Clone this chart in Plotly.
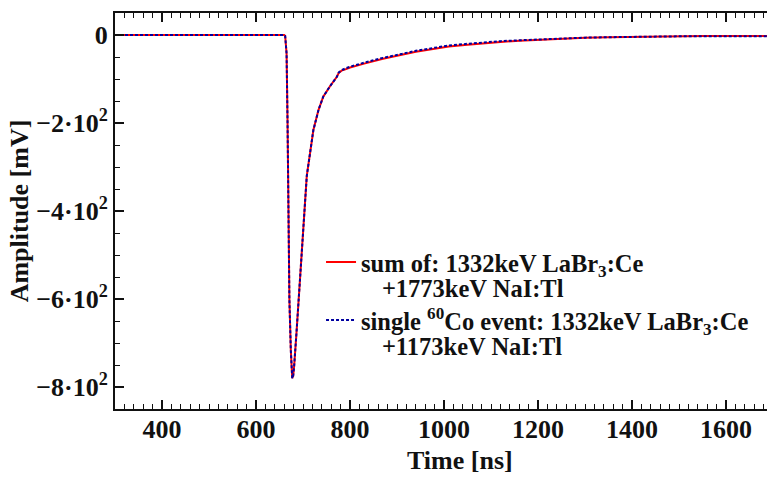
import plotly.graph_objects as go

# ---- data ----
time_ns = [300, 400, 500, 600, 650, 660, 662, 665, 667, 669, 671, 674, 677, 679, 681,
           686, 692, 697, 701, 704, 708, 715, 722, 733, 743, 757, 765, 772, 776, 782,
           790, 800, 830, 870, 910, 940, 980, 1010, 1050, 1080, 1120, 1160, 1200, 1250,
           1300, 1350, 1400, 1450, 1500, 1550, 1600, 1650, 1700]
amp_single = [0, 0, 0, 0, 0, 0, -2, -42, -193, -420, -602, -716, -780, -775, -754,
              -678, -587, -489, -430, -385, -320, -269, -216, -170, -140, -117, -105, -95, -85, -80,
              -76, -72, -63, -52, -43, -36, -29, -24, -20, -17, -14, -12, -10, -8,
              -6, -5, -4, -4, -3, -3, -3, -3, -3]
amp_sum = [0, 0, 0, 0, 0, 0, -2, -42, -193, -420, -602, -716, -780, -775, -754,
           -678, -587, -489, -430, -385, -320, -269, -216, -170, -140, -117, -105, -95, -86, -81,
           -78, -74, -65, -54, -45, -38, -31, -26, -22, -19, -16, -13, -11, -8,
           -6, -5, -4, -4, -3, -2, -2, -2, -2]

x_tickvals = [400, 600, 800, 1000, 1200, 1400, 1600]
y_tickvals = [0, -200, -400, -600, -800]
y_ticktext = ["0", "\u22122\u00b710<sup>2</sup>", "\u22124\u00b710<sup>2</sup>",
              "\u22126\u00b710<sup>2</sup>", "\u22128\u00b710<sup>2</sup>"]

label_sum_1 = "<b>sum of: 1332keV LaBr<sub>3</sub>:Ce</b>"
label_sum_2 = "<b>+1773keV NaI:Tl</b>"
label_single_1 = "<b>single <sup>60</sup>Co event: 1332keV LaBr<sub>3</sub>:Ce</b>"
label_single_2 = "<b>+1173keV NaI:Tl</b>"

FONT = "Liberation Serif"
INK = "#111111"

fig = go.Figure()
fig.add_trace(go.Scatter(x=time_ns, y=amp_sum, mode="lines", name=label_sum_1,
                         legend="legend", line=dict(color="#ff0000", width=2)))
fig.add_trace(go.Scatter(x=time_ns, y=amp_single, mode="lines", name=label_single_1,
                         legend="legend3", line=dict(color="#0000a0", width=2, dash="3px,2px")))
# continuation lines of the legend labels (no symbol)
fig.add_trace(go.Scatter(x=[None], y=[None], mode="lines", name=label_sum_2,
                         legend="legend2", line=dict(color="rgba(0,0,0,0)", width=0),
                         hoverinfo="skip"))
fig.add_trace(go.Scatter(x=[None], y=[None], mode="lines", name=label_single_2,
                         legend="legend4", line=dict(color="rgba(0,0,0,0)", width=0),
                         hoverinfo="skip"))

legend_font = dict(family=FONT, size=24.5, color=INK)


def leg(x, y):
    return dict(x=x, y=y, xanchor="left", yanchor="middle", bgcolor="rgba(0,0,0,0)",
                borderwidth=0, font=legend_font, itemwidth=30, itemclick=False,
                itemdoubleclick=False)


axis_common = dict(
    showline=True, linecolor=INK, linewidth=2,
    ticks="inside", tickcolor=INK, tickwidth=1.5, ticklen=9,
    showgrid=False, zeroline=False,
    tickfont=dict(family=FONT, size=26, color=INK),
)

fig.update_layout(
    width=767, height=477,
    margin=dict(l=115, r=0, t=13, b=68),
    paper_bgcolor="white", plot_bgcolor="white",
    font=dict(family=FONT, size=22, color=INK),
    showlegend=True,
    legend=leg(0.316, 0.371),
    legend2=leg(0.348, 0.3056),
    legend3=leg(0.316, 0.2245),
    legend4=leg(0.348, 0.1591),
    xaxis=dict(range=[300, 1687], tickvals=x_tickvals,
               ticktext=["<b>%d</b>" % v for v in x_tickvals], mirror="ticks",
               ticklabelstandoff=-4,
               minor=dict(dtick=20, tick0=0, ticks="inside", ticklen=5,
                          tickcolor=INK, tickwidth=1.2),
               **axis_common),
    yaxis=dict(range=[-850, 50], tickvals=y_tickvals,
               ticktext=["<b>%s</b>" % t for t in y_ticktext], mirror=False,
               minor=dict(dtick=50, tick0=0, ticks="inside", ticklen=5,
                          tickcolor=INK, tickwidth=1.2),
               title=dict(text="<b>Amplitude [mV]</b>", standoff=0,
                          font=dict(family=FONT, size=26, color=INK)),
               **axis_common),
    annotations=[dict(text="<b>Time [ns]</b>", xref="paper", yref="paper",
                      x=0.529, y=-0.1717, xanchor="center", yanchor="bottom",
                      showarrow=False, font=dict(family=FONT, size=26, color=INK))],
)

fig.write_html("out.html")
